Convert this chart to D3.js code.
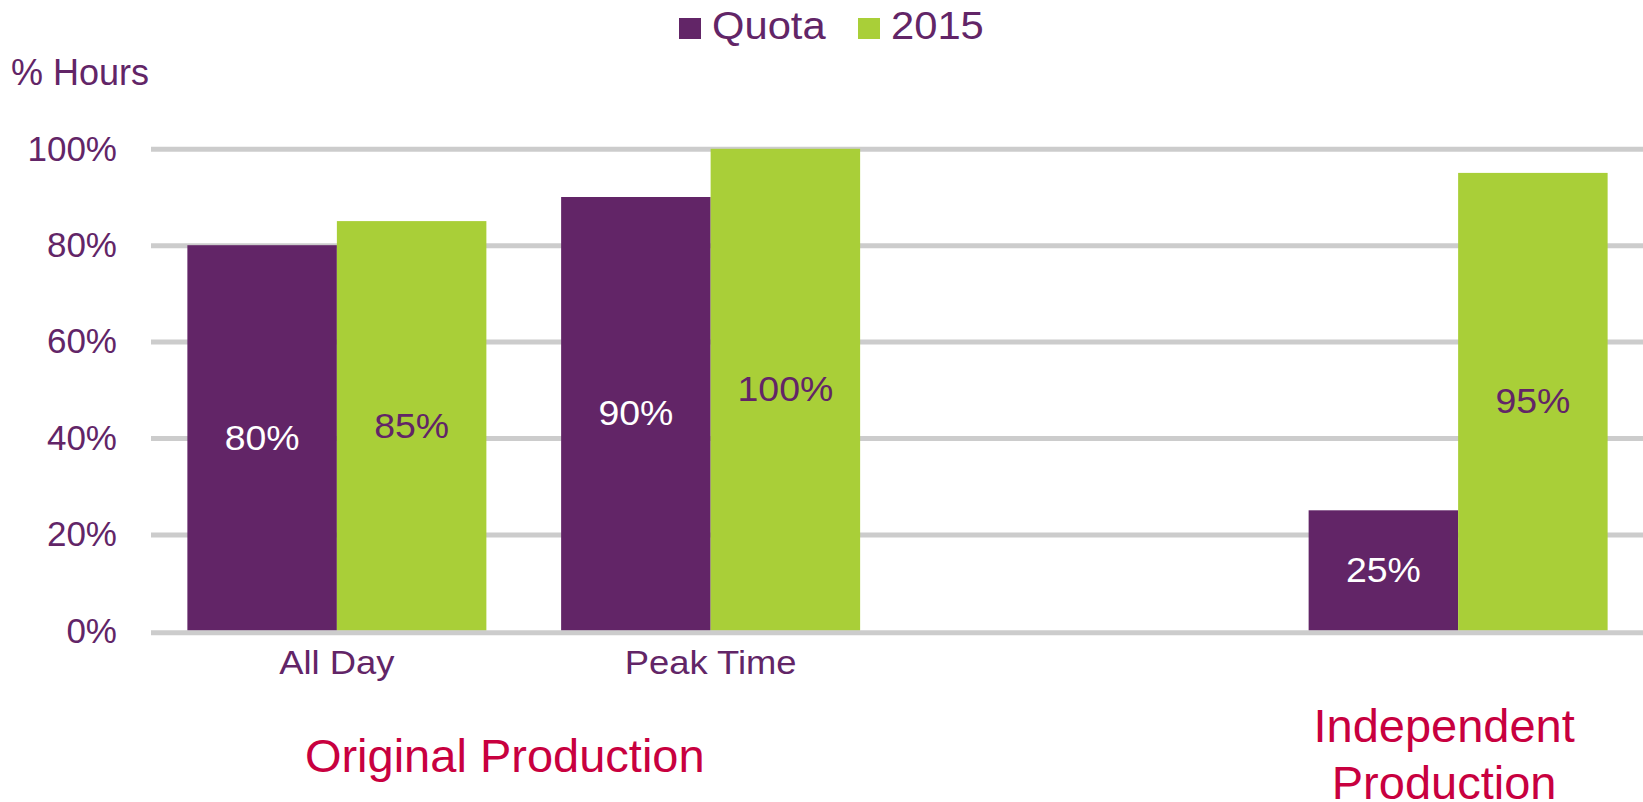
<!DOCTYPE html>
<html>
<head>
<meta charset="utf-8">
<script src="https://cdn.jsdelivr.net/npm/d3@7"></script>
<style>
	body { margin: 0; background: #fff; }
	svg { display: block; font-family: "Liberation Sans", Arial, sans-serif; }
</style>
</head>
<body>
<div id="chart"></div>
<script>
const categories = ["All Day", "Peak Time", "gap", "Independent"];
const categoryLabels = ["All Day", "Peak Time", "", ""];
const seriesNames = ["Quota", "2015"];
const quota = [0.80, 0.90, null, 0.25];
const year2015 = [0.85, 1.00, null, 0.95];
const yTicks = [0, 0.2, 0.4, 0.6, 0.8, 1.0];
const groupLabels = [
	{ lines: ["Original Production"], from: "All Day", to: "Peak Time" },
	{ lines: ["Independent", "Production"], from: "Independent", to: "Independent" },
];

const width = 1643;
const height = 802;
const purple = "#622567";
const green = "#a9cf38";
const crimson = "#c8003f";
const gridColor = "#cccccc";

const plotLeft = 150;
const plotRight = 1645;
// the original text is a little wider than Liberation Sans
const stretch = 1.07;

const svg = d3.select("#chart")
	.append("svg")
	.attr("width", width)
	.attr("height", height);

const x = d3.scaleBand()
	.domain(categories)
	.range([plotLeft, plotRight])
	.paddingInner(0.2)
	.paddingOuter(0.1);

const xSeries = d3.scaleBand()
	.domain(seriesNames)
	.range([0, x.bandwidth()]);

const y = d3.scaleLinear()
	.domain([0, 1])
	.range([630.8, 148.8]);

// gridlines (behind bars)
svg.append("g")
	.attr("class", "grid")
	.attr("transform", `translate(${plotLeft + 1}, 0)`)
	.call(d3.axisLeft(y).tickValues(yTicks.filter((t) => t > 0)).tickSize(-(width - plotLeft)).tickFormat(""))
	.call((g) => g.select(".domain").remove())
	.call((g) => g.selectAll("line").attr("stroke", gridColor).attr("stroke-width", 5));

// y tick labels
svg.append("g")
	.attr("transform", "translate(117, 0)")
	.call(d3.axisLeft(y).tickValues(yTicks).tickSize(0).tickPadding(0).tickFormat(d3.format(".0%")))
	.call((g) => g.select(".domain").remove())
	.call((g) => g.selectAll("text")
		.attr("fill", purple)
		.attr("font-size", 35)
		.attr("font-family", "Liberation Sans, Arial, sans-serif"));

// bars
const rows = categories.map((c, i) => ({ category: c, values: [quota[i], year2015[i]] }));
const colors = [purple, green];
const labelColors = ["#ffffff", purple];

const groups = svg.selectAll(".group").data(rows).enter()
	.append("g")
	.attr("class", "group")
	.attr("transform", (d) => `translate(${x(d.category)}, 0)`);

const cells = groups.selectAll(".cell")
	.data((d) => d.values.map((v, i) => ({ series: seriesNames[i], i, v })).filter((c) => c.v !== null))
	.enter();

cells.append("rect")
	.attr("x", (c) => xSeries(c.series))
	.attr("width", xSeries.bandwidth())
	.attr("y", (c) => y(c.v))
	.attr("height", (c) => y(0) - y(c.v))
	.attr("fill", (c) => colors[c.i]);

cells.append("text")
	.attr("transform", (c) => `translate(${xSeries(c.series) + xSeries.bandwidth() / 2}, ${(y(c.v) + y(0)) / 2}) scale(${stretch}, 1)`)
	.attr("dy", "0.33em")
	.attr("text-anchor", "middle")
	.attr("font-size", 35)
	.attr("fill", (c) => labelColors[c.i])
	.text((c) => d3.format(".0%")(c.v));

// zero line on top of bars
svg.append("line")
	.attr("x1", plotLeft + 1)
	.attr("x2", width)
	.attr("y1", y(0) + 2)
	.attr("y2", y(0) + 2)
	.attr("stroke", gridColor)
	.attr("stroke-width", 5);

// category axis
svg.append("g")
	.attr("transform", `translate(0, ${y(0)})`)
	.call(d3.axisBottom(x).tickSize(0).tickPadding(0).tickFormat((d, i) => categoryLabels[i]))
	.call((g) => g.select(".domain").remove())
	.call((g) => g.selectAll("text")
		.attr("y", 43)
		.attr("dy", 0)
		.attr("transform", `scale(${stretch}, 1)`)
		.attr("fill", purple)
		.attr("font-size", 34)
		.attr("font-family", "Liberation Sans, Arial, sans-serif"));

// group labels
groupLabels.forEach((gl, k) => {
	const cx = (x(gl.from) + x(gl.to) + x.bandwidth()) / 2 - (k === 0 ? 19 : 14);
	const t = svg.append("text")
		.attr("x", cx)
		.attr("y", k === 0 ? 772 : 742)
		.attr("text-anchor", "middle")
		.attr("font-size", 47)
		.attr("fill", crimson);
	gl.lines.forEach((line, j) => {
		t.append("tspan")
			.attr("x", cx)
			.attr("dy", j === 0 ? 0 : 57)
			.text(line);
	});
});

// y title
svg.append("text")
	.attr("x", 11)
	.attr("y", 85)
	.attr("font-size", 36)
	.attr("fill", purple)
	.text("% Hours");

// legend
const legendX = [679, 858];
const legend = svg.selectAll(".legend").data(seriesNames).enter()
	.append("g")
	.attr("class", "legend")
	.attr("transform", (d, i) => `translate(${legendX[i]}, 0)`);

legend.append("rect")
	.attr("x", 0)
	.attr("y", 18)
	.attr("width", 22)
	.attr("height", 21)
	.attr("fill", (d, i) => colors[i]);

legend.append("text")
	.attr("transform", `translate(33, 39) scale(${stretch}, 1)`)
	.attr("font-size", 39)
	.attr("fill", purple)
	.text((d) => d);
</script>
</body>
</html>
